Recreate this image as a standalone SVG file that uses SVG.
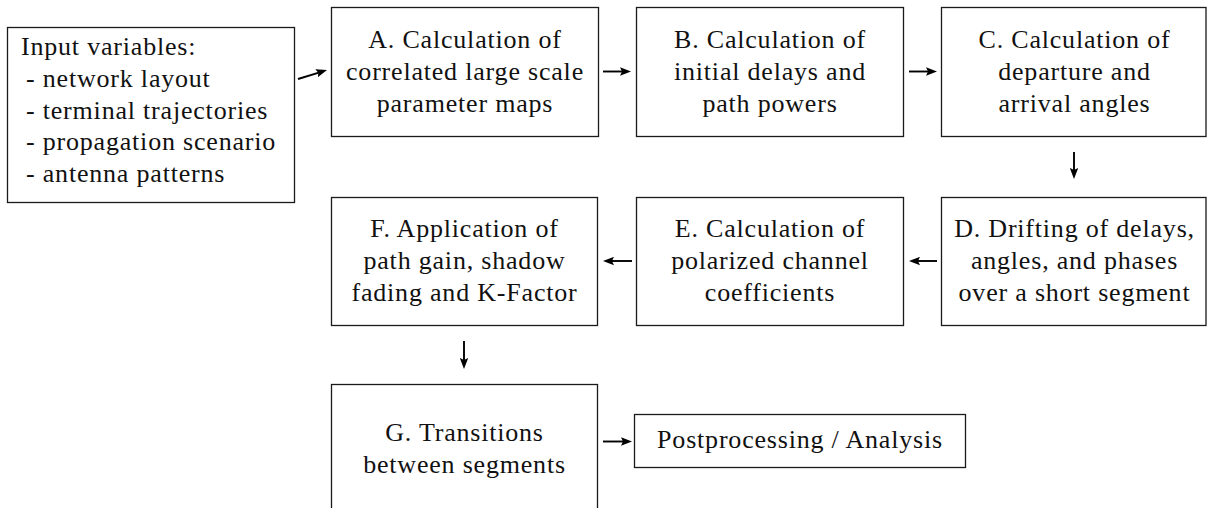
<svg xmlns="http://www.w3.org/2000/svg" width="1207" height="508" viewBox="0 0 1207 508">
<style>
.box{fill:#fff;stroke:#1a1a1a;stroke-width:1.3}
.t{font-family:"Liberation Serif","Times New Roman",serif;font-size:26px;letter-spacing:0.8px;fill:#111}
.c{text-anchor:middle}
.arr{stroke:#000;stroke-width:1.9;fill:none;marker-end:url(#ah)}
</style>
<defs>
<marker id="ah" viewBox="0 0 11 9" refX="5" refY="4.5" markerWidth="11" markerHeight="9" markerUnits="userSpaceOnUse" orient="auto">
<path d="M0,0.3 L11,4.5 L0,8.7 L2,4.5 z" fill="#000"/>
</marker>
</defs>
<rect width="1207" height="508" fill="#fff"/>
<g id="input">
<rect class="box" x="7.5" y="27.5" width="287" height="175"/>
<text class="t" x="21" y="55">Input variables:</text>
<text class="t" x="26" y="87">- network layout</text>
<text class="t" x="26" y="118.5">- terminal trajectories</text>
<text class="t" x="26" y="150">- propagation scenario</text>
<text class="t" x="26" y="182">- antenna patterns</text>
</g>
<g id="nodeA">
<rect class="box" x="331.5" y="7.5" width="267" height="129"/>
<text class="t c" x="465" y="47.5">A. Calculation of</text>
<text class="t c" x="465" y="79.5">correlated large scale</text>
<text class="t c" x="465" y="111.5">parameter maps</text>
</g>
<g id="nodeB">
<rect class="box" x="636.5" y="7.5" width="267" height="129"/>
<text class="t c" x="770" y="47.5">B. Calculation of</text>
<text class="t c" x="770" y="79.5">initial delays and</text>
<text class="t c" x="770" y="111.5">path powers</text>
</g>
<g id="nodeC">
<rect class="box" x="941.5" y="7.5" width="264.5" height="129"/>
<text class="t c" x="1074.5" y="47.5">C. Calculation of</text>
<text class="t c" x="1074.5" y="79.5">departure and</text>
<text class="t c" x="1074.5" y="111.5">arrival angles</text>
</g>
<g id="nodeD">
<rect class="box" x="941.5" y="197.5" width="264.5" height="128"/>
<text class="t c" x="1074.5" y="237">D. Drifting of delays,</text>
<text class="t c" x="1074.5" y="269">angles, and phases</text>
<text class="t c" x="1074.5" y="301">over a short segment</text>
</g>
<g id="nodeE">
<rect class="box" x="636.5" y="197.5" width="267" height="128"/>
<text class="t c" x="770" y="237">E. Calculation of</text>
<text class="t c" x="770" y="269">polarized channel</text>
<text class="t c" x="770" y="301">coefficients</text>
</g>
<g id="nodeF">
<rect class="box" x="331.5" y="197.5" width="266" height="128"/>
<text class="t c" x="464.5" y="237">F. Application of</text>
<text class="t c" x="464.5" y="269">path gain, shadow</text>
<text class="t c" x="464.5" y="301">fading and K-Factor</text>
</g>
<g id="nodeG">
<rect class="box" x="331.5" y="384.5" width="266" height="130"/>
<text class="t c" x="464.5" y="441">G. Transitions</text>
<text class="t c" x="464.5" y="473">between segments</text>
</g>
<g id="post">
<rect class="box" x="634.5" y="414.5" width="331" height="53"/>
<text class="t c" x="800" y="447.5">Postprocessing / Analysis</text>
</g>
<g id="connectors">
<line class="arr" x1="298" y1="79" x2="321.3" y2="71.8"/>
<line class="arr" x1="603" y1="71.5" x2="625" y2="71.5"/>
<line class="arr" x1="909" y1="71.5" x2="931" y2="71.5"/>
<line class="arr" x1="1074" y1="152" x2="1074" y2="173"/>
<line class="arr" x1="937" y1="261" x2="915" y2="261"/>
<line class="arr" x1="632" y1="261" x2="609" y2="261"/>
<line class="arr" x1="464" y1="341" x2="464" y2="363"/>
<line class="arr" x1="603" y1="441.5" x2="626" y2="441.5"/>
</g>
</svg>
